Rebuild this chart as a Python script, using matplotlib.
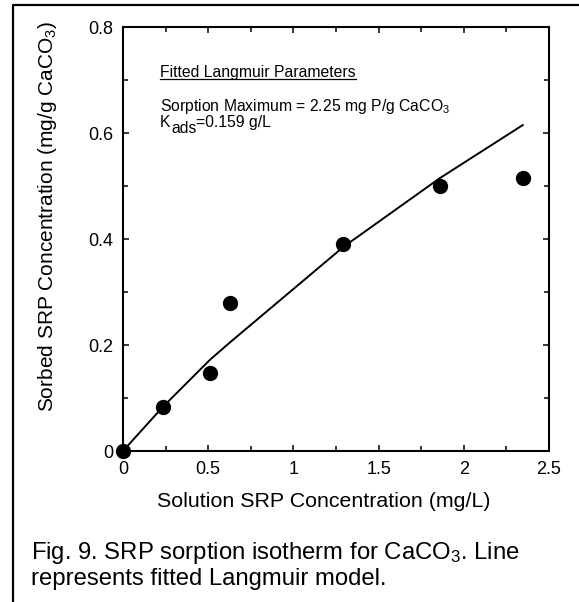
import numpy as np
import matplotlib
matplotlib.use('Agg')
import matplotlib.pyplot as plt
from matplotlib.ticker import MultipleLocator, FuncFormatter
from matplotlib.lines import Line2D

plt.rcParams['font.family'] = ['Liberation Sans', 'DejaVu Sans']
plt.rcParams['mathtext.fontset'] = 'custom'
plt.rcParams['mathtext.rm'] = 'Liberation Sans'
plt.rcParams['mathtext.it'] = 'Liberation Sans'

# measured sorption data
sol_conc = [0.0, 0.233, 0.51, 0.628, 1.293, 1.86, 2.35]
sorbed = [0.0, 0.0825, 0.147, 0.279, 0.391, 0.500, 0.516]

# fitted Langmuir model evaluated at the measured concentrations
fit_conc = [0.0, 0.233, 0.51, 0.628, 1.293, 1.86, 2.346]
fit_sorbed = [0.0, 0.083, 0.172, 0.205, 0.385, 0.515, 0.615]

fig = plt.figure(figsize=(5.79, 6.02), dpi=100)
ax = fig.add_axes([0.2124, 0.2508, 0.7358, 0.7043])

ax.plot(fit_conc, fit_sorbed, color='black', lw=1.4, zorder=2)
ax.plot(sol_conc, sorbed, 'o', color='black', ms=10, zorder=3, clip_on=False)

ax.set_xlim(0, 2.5)
ax.set_ylim(0, 0.8)
ax.xaxis.set_major_locator(MultipleLocator(0.5))
ax.xaxis.set_minor_locator(MultipleLocator(0.25))
ax.yaxis.set_major_locator(MultipleLocator(0.2))
ax.yaxis.set_minor_locator(MultipleLocator(0.1))
fmt = FuncFormatter(lambda v, p: '0' if abs(v) < 1e-9 else ('%g' % v))
ax.xaxis.set_major_formatter(fmt)
ax.yaxis.set_major_formatter(fmt)
ax.tick_params(which='both', direction='in', top=True, right=True, width=1.1)
ax.tick_params(which='major', length=4.3, labelsize=13)
ax.tick_params(axis='x', which='major', pad=7)
ax.tick_params(axis='y', which='major', pad=7)
ax.tick_params(which='minor', length=3.4)
for s in ax.spines.values():
    s.set_linewidth(1.5)

ax.set_xlabel('Solution SRP Concentration (mg/L)', fontsize=15.4)
ax.xaxis.set_label_coords(0.4707, -0.097)
ax.set_ylabel('Sorbed SRP Concentration (mg/g CaCO$_3$)', fontsize=15)
ax.yaxis.set_label_coords(-0.151, 0.553)

fs = 11.3
t = ax.text(0.217, 0.705, 'Fitted Langmuir Parameters', fontsize=fs)
ax.text(0.217, 0.642, 'Sorption Maximum = 2.25 mg P/g CaCO$_3$', fontsize=fs)
k = ax.text(0.217, 0.611, 'K', fontsize=fs, va='baseline')
sub = ax.annotate('ads', xy=(1, 0), xycoords=k, xytext=(0.3, -4.3),
                  textcoords='offset points', fontsize=fs, va='bottom')
ax.annotate('=0.159 g/L', xy=(1, 0), xycoords=sub, xytext=(0, 4.3),
            textcoords='offset points', fontsize=fs, va='bottom')

fig.canvas.draw()
bb = t.get_window_extent().transformed(ax.transData.inverted())
ax.plot([bb.x0, bb.x1], [0.7015, 0.7015], color='black', lw=0.9)

fig.text(0.054, 0.028, 'Fig. 9. SRP sorption isotherm for CaCO$_3$. Line\nrepresents fitted Langmuir model.',
         fontsize=17.2, linespacing=1.1, va='baseline')

# frame around figure
fig.add_artist(Line2D([0.022, 0.022, 1.0], [0.0, 0.9917, 0.9917],
                      transform=fig.transFigure, color='black', lw=1.6))

fig.savefig('out.png', dpi=100)
